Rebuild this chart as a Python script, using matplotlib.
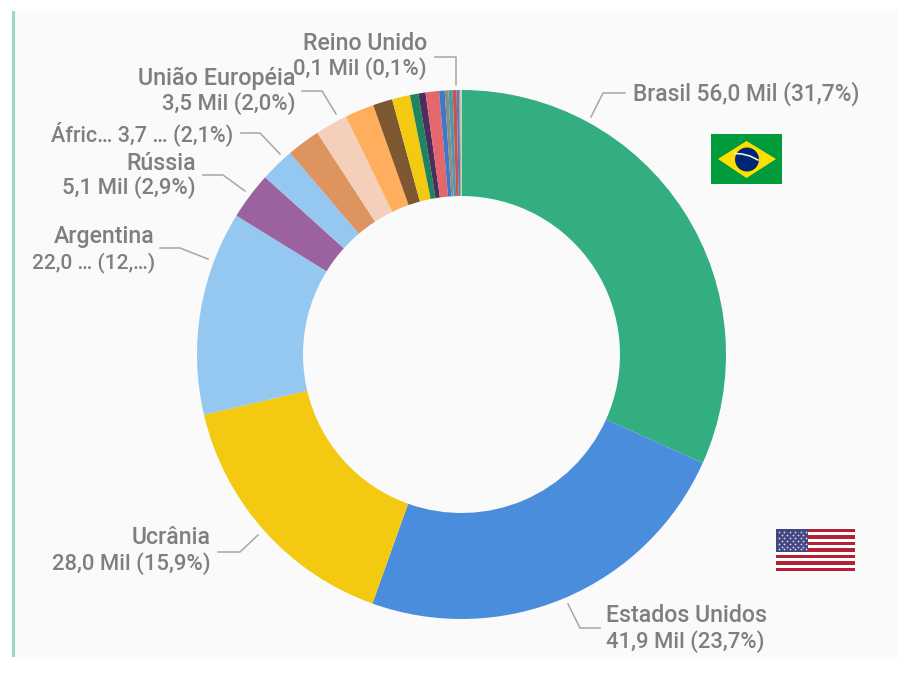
import matplotlib
matplotlib.use("Agg")
import matplotlib.pyplot as plt
from matplotlib.patches import Rectangle, Polygon, Circle, Wedge
import numpy as np

W, H = 900, 681
values = [56.0, 41.9, 28.0, 22.0, 5.1, 3.7, 3.6, 3.5, 3.14, 2.1, 1.95, 0.9, 0.77, 1.45,
          0.6, 0.4, 0.45, 0.42, 0.3, 0.12, 0.1]
colors = ["#33AE81", "#4A8DDC", "#F3C911", "#95C8F0", "#9C619F", "#95C8F0", "#DE945F", "#F4D0BA",
          "#FEAE5C", "#7D5730", "#F3C911", "#1F8560", "#4A2F5C", "#E5666B",
          "#3F78C8", "#8C8C80", "#4C9CA8", "#D0504F", "#5A7FB0", "#A08A90", "#F2D5B0"]
names = 16.7
nums = 15.9
labels = [("Brasil 56,0 Mil (31,7%)", 633, 94, "left", 16.4),
          ("Estados Unidos", 606, 615, "left", names), ("41,9 Mil (23,7%)", 606, 642, "left", nums),
          ("Ucrânia", 211, 538, "right", names), ("28,0 Mil (15,9%)", 211, 564, "right", nums),
          ("Argentina", 155, 237, "right", names), ("22,0 … (12,…)", 155, 263, "right", 15.0),
          ("Rússia", 196, 163, "right", names), ("5,1 Mil (2,9%)", 196, 188, "right", nums),
          ("Áfric… 3,7 … (2,1%)", 233, 134, "right", 15.5),
          ("União Européia", 295, 78, "right", 16.8), ("3,5 Mil (2,0%)", 295, 104, "right", nums),
          ("Reino Unido", 427, 44, "right", names), ("0,1 Mil (0,1%)", 427, 69, "right", nums)]
leaders = [[(591, 117), (603, 93), (625, 93)], [(568, 604), (580, 628), (600, 628)],
           [(258, 535), (240, 552), (218, 552)], [(208, 259), (180, 248), (160, 248)],
           [(245, 191), (223, 175), (203, 175)], [(280, 154), (260, 133), (241, 133)],
           [(336, 114), (322, 91), (302, 91)], [(456, 85), (456, 57), (435, 57)]]

fig = plt.figure(figsize=(W / 100, H / 100), dpi=100, facecolor="white")
ax = fig.add_axes([0, 0, 1, 1])
Y = lambda y: H - y

ax.add_patch(Rectangle((12, Y(657)), 886, 646, fc="#FAFAFA", ec="none", zorder=0))
ax.add_patch(Rectangle((12, Y(657)), 3, 646, fc="#9AD9C2", ec="none", zorder=1))

ax.pie(values, colors=colors, startangle=90, counterclock=False, center=(461.5, Y(354.5)),
       radius=264.5, frame=True, wedgeprops=dict(width=106, linewidth=0))

for pts in leaders:
    ax.plot([p[0] for p in pts], [Y(p[1]) for p in pts], color="#A6A6A6", lw=1.1, zorder=3)
for s, x, y, ha, fs in labels:
    ax.text(x, Y(y), s, ha=ha, va="center", fontsize=fs, color="#7F7F7F", family="Roboto",
            weight="medium", zorder=4)

# Brazil flag
ax.add_patch(Rectangle((711, Y(184)), 71, 50, fc="#009C3B", ec="none", zorder=5))
ax.add_patch(Polygon([(718, Y(159)), (746.5, Y(141)), (776, Y(159)), (746.5, Y(178))], fc="#FFDF00", ec="none", zorder=6))
ax.add_patch(Circle((747, Y(159.5)), 12, fc="#002776", ec="none", zorder=7))
ax.plot([735, 742, 750, 758], [Y(153.5), Y(154), Y(156), Y(160)], color="#E8EEE8", lw=1.2, zorder=8)

# US flag
ax.add_patch(Rectangle((776, Y(571)), 79, 42, fc="#FFFFFF", ec="none", zorder=5))
h = 42 / 13
for i in range(0, 13, 2):
    ax.add_patch(Rectangle((776, Y(529 + (i + 1) * h)), 79, h, fc="#B22234", ec="none", zorder=6))
ax.add_patch(Rectangle((776, Y(529 + 7 * h)), 32, 7 * h, fc="#434680", ec="none", zorder=7))
for r in range(7):
    for c in range(6 if r % 2 == 0 else 5):
        ax.plot(779 + c * 5.4 + (0 if r % 2 == 0 else 2.7), Y(532 + r * 2.9), ".", ms=2.6,
                mfc="#D5D7E8", mec="none", zorder=8)

ax.set_xlim(0, W)
ax.set_ylim(0, H)
ax.set_aspect("auto")
ax.axis("off")
fig.savefig("out.png", dpi=100, facecolor="white")
